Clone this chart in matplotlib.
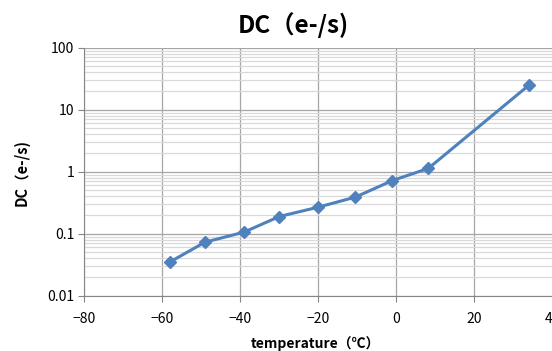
import matplotlib
matplotlib.use("Agg")
import matplotlib.pyplot as plt
from matplotlib.ticker import LogLocator, FuncFormatter, NullFormatter

plt.rcParams['font.family'] = ['Noto Sans CJK SC', 'DejaVu Sans']

# temperature (deg C) and dark current (e-/s)
temperature = [-58, -49, -39, -30, -20, -10.5, -1, 8.2, 34]
dark_current = [0.035, 0.073, 0.106, 0.189, 0.268, 0.389, 0.72, 1.13, 25]

x_ticks = [-80, -60, -40, -20, 0, 20, 40]

fig = plt.figure(figsize=(5.52, 3.51), dpi=100)
ax = fig.add_axes([84 / 552, 1 - 295.7 / 351, 468.5 / 552, 248 / 351])

ax.plot(temperature, dark_current, color='#4F81BD', linewidth=2.2,
        marker='D', markersize=6, zorder=3, clip_on=False)

ax.set_yscale('log')
ax.set_ylim(0.01, 100)
ax.set_xlim(-80, 40)
ax.set_xticks(x_ticks)
ax.yaxis.set_major_locator(LogLocator(base=10))
ax.yaxis.set_minor_locator(LogLocator(base=10, subs=range(2, 10)))
ax.yaxis.set_major_formatter(FuncFormatter(lambda v, p: '%g' % v))
ax.yaxis.set_minor_formatter(NullFormatter())

ax.grid(which='major', axis='both', color='#a6a6a6', linewidth=0.9)
ax.grid(which='minor', axis='y', color='#d9d9d9', linewidth=0.9)
ax.set_axisbelow(True)

for s in ['top', 'right']:
    ax.spines[s].set_visible(False)
for s in ['left', 'bottom']:
    ax.spines[s].set_color('#868686')
ax.tick_params(which='major', length=4, color='#868686', labelsize=10,
               labelcolor='#000000', pad=3)
ax.tick_params(which='minor', length=0)
ax.tick_params(axis='x', pad=8)

fig.text(293 / 552, 1 - 25 / 351, 'DC（e-/s)', ha='center', va='center',
         fontsize=17.5, fontweight='bold')
fig.text(22 / 552, 1 - 172 / 351, 'DC（e-/s)', ha='center', va='center',
         rotation=90, fontsize=10.5, fontweight='bold')
fig.text(315 / 552, 1 - 344 / 351, 'temperature（℃）', ha='center', va='center',
         fontsize=10, fontweight='bold')

fig.savefig('out.png', dpi=100)
